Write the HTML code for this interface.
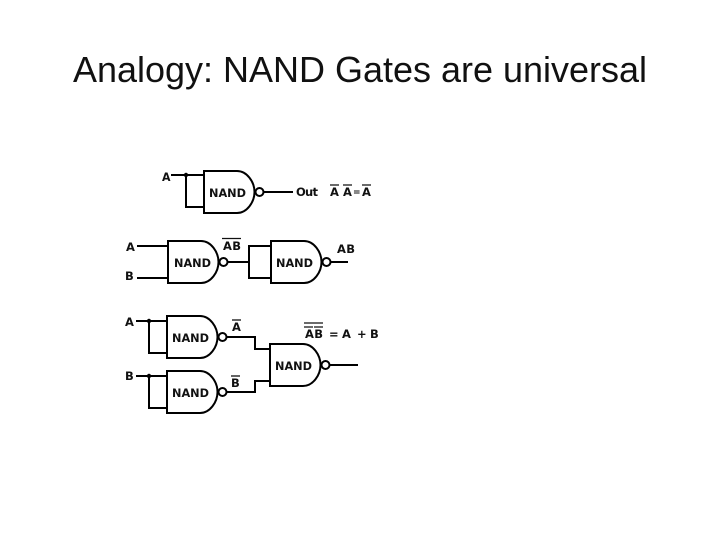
<!DOCTYPE html>
<html>
<head>
<meta charset="utf-8">
<style>
html,body{margin:0;padding:0;background:#fff;width:720px;height:540px;overflow:hidden}
svg{display:block}
.t{font-family:"Liberation Sans",sans-serif;font-size:36px;fill:#111}
.l{font-family:"DejaVu Sans",sans-serif;font-size:11.500px;font-weight:bold;fill:#111}
.w{fill:none;stroke:#000;stroke-width:2}
.o{stroke:#111;stroke-width:1.300}
</style>
</head>
<body>
<svg width="720" height="540" viewBox="0 0 720 540" xmlns="http://www.w3.org/2000/svg">
<defs>
<g id="g">
<path class="w" d="M0 0H33C43 0 50.500 11 50.500 21C50.500 31 43 42 33 42H0Z"/>
<circle class="w" cx="55.500" cy="21" r="4" fill="#fff"/>
</g>
</defs>
<text class="t" x="73" y="82" textLength="574" lengthAdjust="spacingAndGlyphs">Analogy: NAND Gates are universal</text>

<use href="#g" x="204" y="171"/>
<path class="w" d="M171 175H204M186 175V207H204M263.500 192H293"/>
<circle cx="186" cy="175" r="2.200"/>
<text class="l" x="162" y="181" textLength="8.500" lengthAdjust="spacingAndGlyphs">A</text>
<text class="l" x="209" y="197" textLength="37" lengthAdjust="spacingAndGlyphs">NAND</text>
<text class="l" x="296" y="196" textLength="22" lengthAdjust="spacing">Out</text>
<text class="l" x="330" y="196">A</text>
<text class="l" x="343" y="196">A</text>
<text class="l" x="353" y="195" font-size="9" style="font-size:9px">=</text>
<text class="l" x="362" y="196">A</text>
<path class="o" d="M330 185H339M343 185H352M362 185H371"/>

<use href="#g" x="168" y="241"/>
<path class="w" d="M137 246H168M137 278H168M227.500 262H249M271 246H249V278H271M330 262H348"/>
<text class="l" x="126" y="251">A</text>
<text class="l" x="125" y="280">B</text>
<text class="l" x="174" y="267" textLength="37" lengthAdjust="spacingAndGlyphs">NAND</text>
<text class="l" x="223" y="250" textLength="18" lengthAdjust="spacing">AB</text>
<path class="o" d="M222 238.500H241"/>

<use href="#g" x="271" y="241"/>
<text class="l" x="276" y="267" textLength="37" lengthAdjust="spacingAndGlyphs">NAND</text>
<text class="l" x="337" y="253" textLength="18" lengthAdjust="spacing">AB</text>

<use href="#g" x="167" y="316"/>
<path class="w" d="M136 321H167M149 321V353H167"/>
<circle cx="149" cy="321" r="2.200"/>
<text class="l" x="125" y="326">A</text>
<text class="l" x="172" y="342" textLength="37" lengthAdjust="spacingAndGlyphs">NAND</text>
<text class="l" x="232" y="331">A</text>
<path class="o" d="M232 320H241"/>

<use href="#g" x="167" y="371"/>
<path class="w" d="M136 376H167M149 376V408H167"/>
<circle cx="149" cy="376" r="2.200"/>
<text class="l" x="125" y="380">B</text>
<text class="l" x="172" y="397" textLength="37" lengthAdjust="spacingAndGlyphs">NAND</text>
<text class="l" x="231" y="387">B</text>
<path class="o" d="M231 376H240"/>

<use href="#g" x="270" y="344"/>
<path class="w" d="M227 337H255V349H270M227 392H255V381H270M329.500 365H358"/>
<text class="l" x="275" y="370" textLength="37" lengthAdjust="spacingAndGlyphs">NAND</text>
<text class="l" x="305" y="338" textLength="18" lengthAdjust="spacing">AB</text>
<text class="l" x="329" y="338">=</text>
<text class="l" x="342" y="338">A</text>
<text class="l" x="357" y="338">+</text>
<text class="l" x="370" y="338">B</text>
<path class="o" d="M304 323H323M304 327H313M314 327H323"/>
</svg>
</body>
</html>
